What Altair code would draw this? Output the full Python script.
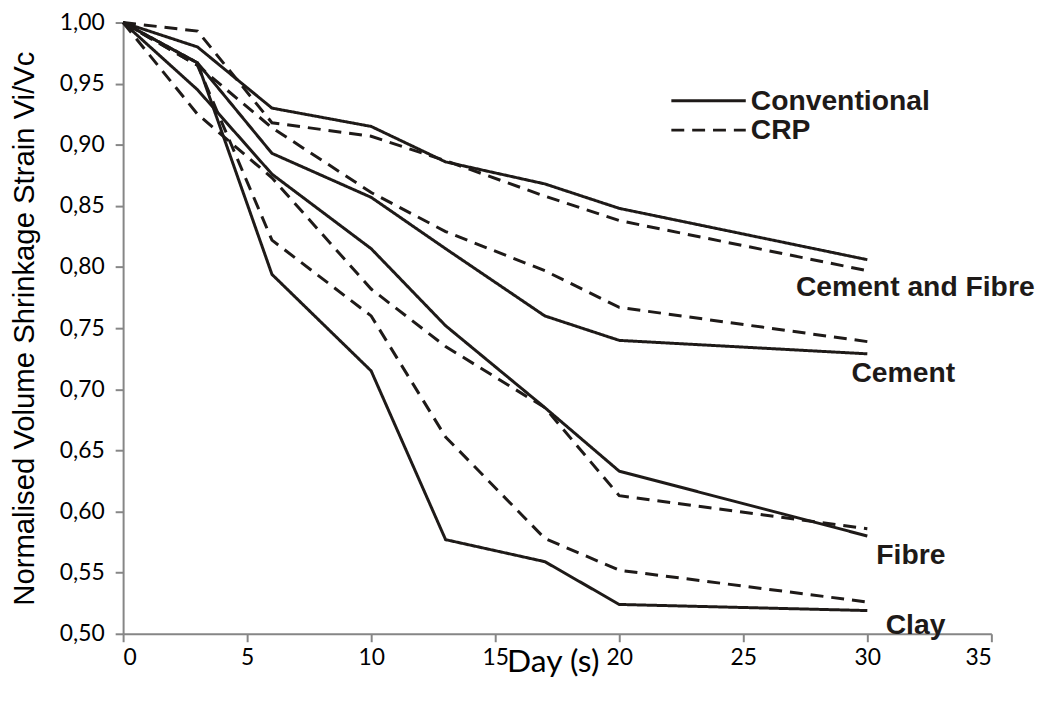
import altair as alt
import pandas as pd

# ---------------- data ----------------
days = [0, 3, 6, 10, 13, 17, 20, 30]

cement_fibre_conv = [1.000, 0.980, 0.930, 0.915, 0.886, 0.868, 0.848, 0.806]
cement_fibre_crp  = [1.000, 0.993, 0.918, 0.907, 0.887, 0.858, 0.838, 0.797]
cement_conv       = [1.000, 0.967, 0.893, 0.857, 0.815, 0.760, 0.740, 0.729]
cement_crp        = [1.000, 0.965, 0.914, 0.861, 0.829, 0.797, 0.767, 0.739]
fibre_conv        = [1.000, 0.945, 0.876, 0.815, 0.752, 0.685, 0.633, 0.580]
fibre_crp         = [1.000, 0.925, 0.873, 0.782, 0.735, 0.685, 0.613, 0.586]
clay_conv         = [1.000, 0.967, 0.794, 0.715, 0.577, 0.559, 0.524, 0.519]
clay_crp          = [1.000, 0.965, 0.822, 0.760, 0.661, 0.578, 0.552, 0.526]

methods = ["Conventional", "CRP"]
series = {
    ("Cement and Fibre", "Conventional"): cement_fibre_conv,
    ("Cement and Fibre", "CRP"): cement_fibre_crp,
    ("Cement", "Conventional"): cement_conv,
    ("Cement", "CRP"): cement_crp,
    ("Fibre", "Conventional"): fibre_conv,
    ("Fibre", "CRP"): fibre_crp,
    ("Clay", "Conventional"): clay_conv,
    ("Clay", "CRP"): clay_crp,
}

x_ticks = [0, 5, 10, 15, 20, 25, 30, 35]
y_ticks = [0.50, 0.55, 0.60, 0.65, 0.70, 0.75, 0.80, 0.85, 0.90, 0.95, 1.00]

# curve labels (text, day, value)
label_text = ["Cement and Fibre", "Cement", "Fibre", "Clay"]
label_day = [27.12, 29.36, 30.36, 30.74]
label_val = [0.7836, 0.713, 0.564, 0.507]

# legend entries
legend_day_start = 22.1
legend_day_end = 25.1
legend_text_day = 25.3
legend_val = [0.936, 0.912]

# ---------------- build tables ----------------
rows = []
for (mat, meth), vals in series.items():
    for d, v in zip(days, vals):
        rows.append({"material": mat, "method": meth, "series": f"{mat}|{meth}",
                     "day": d, "value": v})
df = pd.DataFrame(rows)

labels_df = pd.DataFrame({"text": label_text, "day": label_day, "value": label_val})
legend_df = pd.DataFrame({
    "method": methods,
    "x0": [legend_day_start] * 2,
    "x1": [legend_day_end] * 2,
    "xt": [legend_text_day] * 2,
    "value": legend_val,
})

INK = "#1e1a18"
AXIS = "#868686"

dash_scale = alt.Scale(domain=methods, range=[[1, 0], [13, 8]])

x_scale = alt.Scale(domain=[0, 35], nice=False)
y_scale = alt.Scale(domain=[0.5, 1.0], nice=False, zero=False)

x_axis = alt.Axis(
    values=x_ticks, title="Day (s)", grid=False,
    domainColor=AXIS, domainWidth=2, tickColor=AXIS, tickWidth=2, tickSize=8,
    labelFont="Lato", labelFontSize=23, labelColor="#000000", labelPadding=5,
    titleFont="Lato", titleFontSize=32, titleFontWeight="normal", titleColor="#000000",
    titleX=433, titleY=28, titleBaseline="middle", titleAlign="center",
)
y_axis = alt.Axis(
    values=y_ticks, title="Normalised Volume Shrinkage Strain Vi/Vc", grid=False,
    domainColor=AXIS, domainWidth=2, tickColor=AXIS, tickWidth=2, tickSize=8,
    labelFont="Lato", labelFontSize=23, labelColor="#000000", labelPadding=11,
    labelExpr="replace(format(datum.value, '.2f'), '.', ',')",
    titleFont="Liberation Sans", titleFontSize=29.5, titleFontWeight="normal",
    titleColor="#000000", titleAngle=270,
    titleX=-99, titleY=308, titleBaseline="middle", titleAlign="center",
)

lines = alt.Chart(df).mark_line(strokeWidth=3, color=INK, strokeCap="butt").encode(
    x=alt.X("day:Q", scale=x_scale, axis=x_axis),
    y=alt.Y("value:Q", scale=y_scale, axis=y_axis),
    detail="series:N",
    strokeDash=alt.StrokeDash("method:N", scale=dash_scale, legend=None),
    order="day:Q",
)

curve_labels = alt.Chart(labels_df).mark_text(
    font="Liberation Sans", fontWeight="bold", fontSize=28.5, align="left",
    baseline="middle", color=INK,
).encode(
    x=alt.X("day:Q", scale=x_scale),
    y=alt.Y("value:Q", scale=y_scale),
    text="text:N",
)

legend_lines = alt.Chart(legend_df).mark_rule(strokeWidth=3, color=INK, strokeCap="butt").encode(
    x=alt.X("x0:Q", scale=x_scale),
    x2="x1:Q",
    y=alt.Y("value:Q", scale=y_scale),
    strokeDash=alt.StrokeDash("method:N", scale=dash_scale, legend=None),
)

legend_text = alt.Chart(legend_df).mark_text(
    font="Liberation Sans", fontWeight="bold", fontSize=28.5, align="left",
    baseline="middle", color=INK,
).encode(
    x=alt.X("xt:Q", scale=x_scale),
    y=alt.Y("value:Q", scale=y_scale),
    text="method:N",
)

chart = alt.layer(lines, curve_labels, legend_lines, legend_text).properties(
    width=875, height=616,
    padding={"left": 116, "top": 12, "right": 47, "bottom": 54},
    autosize=alt.AutoSizeParams(type="none"),
    background="white",
).configure_view(stroke=None)

chart.save("out.html", embed_options={"renderer": "svg", "actions": False})
